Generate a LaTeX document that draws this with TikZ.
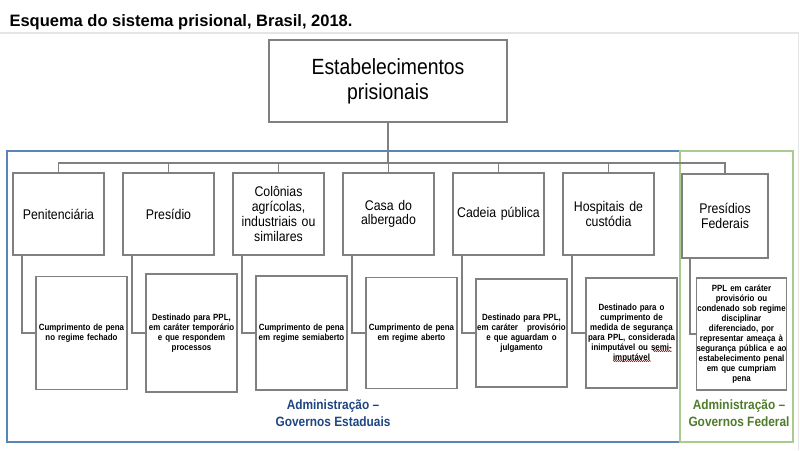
\documentclass[tikz,border=0pt]{standalone}
\usepackage{fontspec}
\setmainfont{Liberation Sans}
\newfontfamily\narrowfont[FakeStretch=0.88]{Liberation Sans}
\usetikzlibrary{decorations.pathmorphing}
\definecolor{boxGray}{RGB}{128,128,128}
\definecolor{stateBlue}{RGB}{88,134,184}
\definecolor{stateBlueText}{RGB}{31,70,130}
\definecolor{fedGreen}{RGB}{170,203,142}
\definecolor{fedGreenText}{RGB}{78,124,44}
\begin{document}
\begin{tikzpicture}[
    x=1pt,
    y=-1pt,
    topBox/.style={draw=boxGray, line width=1.6pt, minimum width=238pt,
        minimum height=82pt, align=center,
        font=\narrowfont\fontsize{22}{25}\selectfont},
    unitBox/.style={draw=boxGray, fill=white, line width=1.6pt, minimum width=91pt,
        text width=87pt, inner xsep=2pt, align=center,
        font=\narrowfont\fontsize{14}{14.7}\selectfont},
    descBox/.style={draw=boxGray, fill=white, line width=1.6pt, minimum width=91pt,
        text width=91pt, inner xsep=0pt, align=center,
        font=\narrowfont\bfseries\fontsize{9}{10}\selectfont},
    link/.style={draw=boxGray, line width=1.6pt},
    stateFrame/.style={draw=stateBlue, line width=1.6pt},
    fedFrame/.style={draw=fedGreen, line width=1.6pt},
    adminLabel/.style={align=center,
        font=\narrowfont\bfseries\fontsize{13.5}{17}\selectfont},
    spellMark/.style={draw=red!80!black, line width=0.5pt, decorate,
        decoration={snake, amplitude=0.6pt, segment length=2pt}}
]
\path[use as bounding box] (0,0) rectangle (800,450);

% Title and the faint page frame below it.
\node[anchor=base west, font=\bfseries\fontsize{16.5}{20}\selectfont] (title)
    at (6,26) {Esquema do sistema prisional, Brasil, 2018.};
\draw[black!10, line width=1.5pt] (0,33) -| (798.5,450);

% State (blue) and federal (green) administration regions.
\draw[stateFrame] (7,151) rectangle (680,442);
\draw[fedFrame] (680,151) rectangle (793,442);

\node[topBox] (estab) at (388,81) {Estabelecimentos\\prisionais};

% name / centre x / height of lower box / unit / description
\foreach \n/\x/\h/\unit/\desc in {
    pen/58.5/113/Penitenciária/{Cumprimento de pena\\no regime fechado},
    pres/168.5/118/Presídio/{Destinado para PPL,\\em caráter temporário\\e que respondem\\processos},
    col/278.5/114/{Colônias\\agrícolas,\\industriais ou\\similares}/{Cumprimento de pena\\em regime semiaberto},
    casa/388.5/111/{Casa do\\albergado}/{Cumprimento de pena\\em regime aberto},
    cad/498.5/108/Cadeia pública/{Destinado para PPL,\\em caráter\ \ \ provisório\\e que aguardam o\\julgamento},
    hosp/608.5/110/{Hospitais de\\custódia}/{Destinado para o\\cumprimento de\\medida de segurança\\para PPL, considerada\\inimputável ou semi-\\imputável}
} {
    \node[unitBox, minimum height=82pt] (\n) at (\x,214) {\unit};
    \node[descBox, minimum height=\h pt] (\n-d) at (\x+23,333) {\desc};
    \draw[link] (estab.south) -- ++(0,40) -| (\n.north);
    \draw[link] ([xshift=9.5pt]\n.south west) |- (\n-d.west);
}

% Federal unit, slightly narrower.
\node[unitBox, text width=82pt, minimum width=86pt, minimum height=84pt] (fed)
    at (725,216) {Presídios\\Federais};
\node[descBox, text width=90pt, minimum width=89pt, minimum height=112pt] (fed-d)
    at (741.5,334) {PPL em caráter\\provisório ou\\condenado sob regime\\disciplinar\\diferenciado, por\\representar ameaça à\\segurança pública e ao\\estabelecimento penal\\em que cumpriam\\pena};
\draw[link] (estab.south) -- ++(0,40) -| (fed.north);
\draw[link] ([xshift=9pt]fed.south west) |- (fed-d.west);

% Spell-checker marks left in the source picture.
\draw[spellMark] (653,351) -- (672,351);
\draw[spellMark] (613,361) -- (651,361);

\node[adminLabel, text=stateBlueText] (stateAdmin) at (333,413)
    {Administração –\\Governos Estaduais};
\node[adminLabel, text=fedGreenText] (fedAdmin) at (739,413)
    {Administração –\\Governos Federal};
\end{tikzpicture}
\end{document}
